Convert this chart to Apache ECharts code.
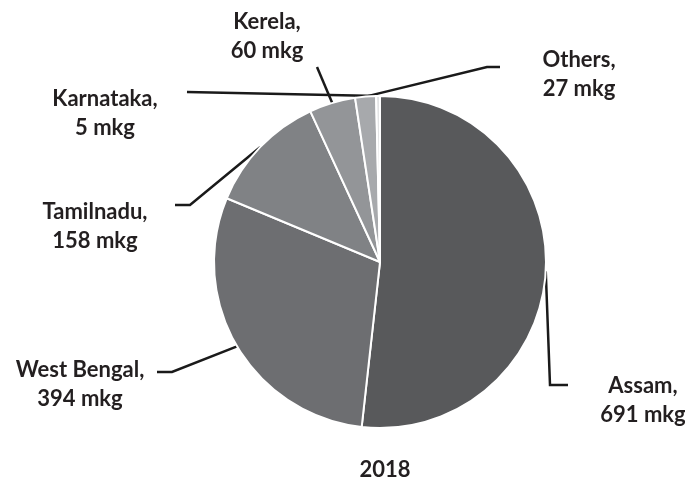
<!DOCTYPE html>
<html>
<head>
<meta charset="utf-8">
<script src="https://cdn.jsdelivr.net/npm/echarts@6/dist/echarts.min.js"></script>
<style>html,body{margin:0;padding:0;background:#fff;}#c{width:685px;height:491px;}</style>
</head>
<body>
<div id="c"></div>
<script>
// Data
var categories = ['Assam', 'West Bengal', 'Tamilnadu', 'Kerela', 'Others', 'Karnataka'];
var values = [691, 394, 158, 60, 27, 5];
var title = '2018';
var unit = 'mkg';

// Styles / layout (not data)
var colors = ['#58595b', '#6d6e71', '#808285', '#939598', '#a7a9ac', '#e3e4e5'];
var labelLayoutCfg = [
  {x: 643, y: 400, mid: [550, 385], end: [568, 385]},
  {x: 80, y: 384, mid: [172, 372], end: [157, 372]},
  {x: 95, y: 226, mid: [190, 205], end: [175, 205]},
  {x: 267, y: 36, mid: [317, 67], end: [317, 67]},
  {x: 579, y: 74, mid: [487, 67], end: [500, 67]},
  {x: 105, y: 113, mid: [187, 92], end: [187, 92]}
];

var chart = echarts.init(document.getElementById('c'));
var data = categories.map(function (n, i) {
  return {name: n, value: values[i], itemStyle: {color: colors[i]}};
});
chart.setOption({
  animation: false,
  title: {
    text: title, left: 380, top: 454, textAlign: 'center',
    textStyle: {fontFamily: 'Lato', fontWeight: 'bold', fontSize: 22, color: '#231f20'}
  },
  series: [{
    type: 'pie',
    center: [380, 262],
    radius: 166,
    startAngle: 90,
    clockwise: true,
    avoidLabelOverlap: false,
    data: data,
    itemStyle: {borderColor: '#ffffff', borderWidth: 2},
    label: {
      show: true, position: 'outside',
      formatter: function (p) { return p.name + ',\n' + p.value + ' ' + unit; },
      fontFamily: 'Lato', fontWeight: 'bold', fontSize: 22, lineHeight: 29,
      color: '#231f20', align: 'center'
    },
    labelLine: {show: true, lineStyle: {color: '#1a1a1a', width: 2.5}},
    labelLayout: function (p) {
      var L = labelLayoutCfg[p.dataIndex];
      var s = p.labelLinePoints ? p.labelLinePoints[0] : L.mid;
      return {x: L.x, y: L.y, align: 'center', verticalAlign: 'middle',
        labelLinePoints: [s, L.mid, L.end]};
    },
    emphasis: {disabled: true}
  }]
});
</script>
</body>
</html>
